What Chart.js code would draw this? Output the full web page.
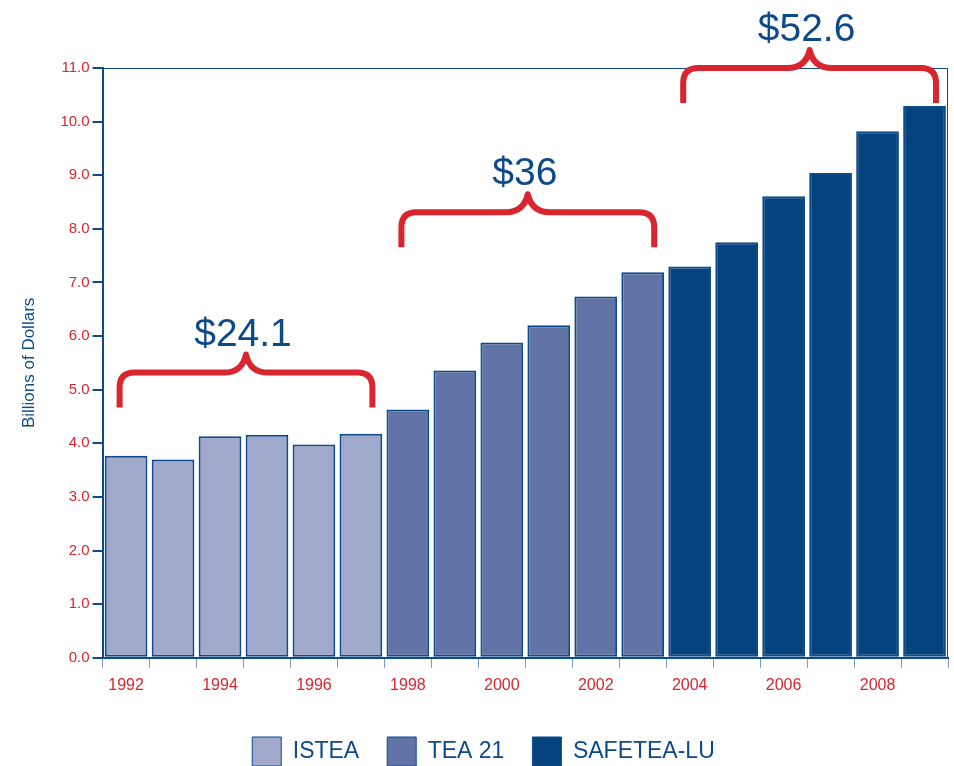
<!DOCTYPE html>
<html>
<head>
<meta charset="utf-8">
<script src="https://cdn.jsdelivr.net/npm/chart.js@4/dist/chart.umd.min.js"></script>
<style>
  html, body { margin: 0; padding: 0; background: #fff; }
  #wrap { width: 954px; height: 766px; }
</style>
</head>
<body>
<div id="wrap"><canvas id="myChart" width="954" height="766"></canvas></div>
<script>
// data (billions of dollars)
var years = ["1992", "1993", "1994", "1995", "1996", "1997", "1998", "1999", "2000",
             "2001", "2002", "2003", "2004", "2005", "2006", "2007", "2008", "2009"];
var istea = [3.77, 3.70, 4.13, 4.16, 3.98, 4.18, null, null, null, null, null, null, null, null, null, null, null, null];
var tea21 = [null, null, null, null, null, null, 4.63, 5.36, 5.88, 6.20, 6.74, 7.19, null, null, null, null, null, null];
var safetea = [null, null, null, null, null, null, null, null, null, null, null, null, 7.30, 7.75, 8.61, 9.04, 9.82, 10.29];

// bracket totals: first bar, last bar, level (in dollars) of the bracket, label
var bracketFrom = [0, 6, 12];
var bracketTo = [5, 11, 17];
var bracketLevel = [5.32, 8.31, 11.0];
var bracketText = ["$24.1", "$36", "$52.6"];

var red = "#d7262f";
var navy = "#0d4a8a";
var font = "'Liberation Sans', Arial, sans-serif";

var bracePlugin = {
    id: "braces",
    afterDatasetsDraw: function (chart) {
        var c = chart.ctx;
        var xs = chart.scales.x;
        var ys = chart.scales.y;
        var area = chart.chartArea;
        var slot = xs.getPixelForValue(1) - xs.getPixelForValue(0);

        // thin frame on top and right
        c.save();
        c.strokeStyle = navy;
        c.lineWidth = 1;
        c.beginPath();
        c.moveTo(area.left, area.top + 0.5);
        c.lineTo(area.right - 0.5, area.top + 0.5);
        c.lineTo(area.right - 0.5, area.bottom);
        c.stroke();
        c.restore();

        for (var i = 0; i < bracketText.length; i++) {
            var x0 = xs.getPixelForValue(bracketFrom[i]) - slot / 2 + 17;
            var x1 = xs.getPixelForValue(bracketTo[i]) + slot / 2 - 12;
            var y = ys.getPixelForValue(bracketLevel[i]);
            var mid = (x0 + x1) / 2;
            c.save();
            c.strokeStyle = red;
            c.lineWidth = 6;
            c.lineJoin = "round";
            c.beginPath();
            c.moveTo(x0, y + 35);
            c.lineTo(x0, y + 15);
            c.quadraticCurveTo(x0, y, x0 + 15, y);
            c.lineTo(mid - 22, y);
            c.quadraticCurveTo(mid - 4, y, mid, y - 18);
            c.quadraticCurveTo(mid + 4, y, mid + 22, y);
            c.lineTo(x1 - 15, y);
            c.quadraticCurveTo(x1, y, x1, y + 15);
            c.lineTo(x1, y + 35);
            c.stroke();

            c.fillStyle = navy;
            c.font = "39px " + font;
            c.textAlign = "center";
            c.textBaseline = "alphabetic";
            c.fillText(bracketText[i], mid - 3, y - 27);
            c.restore();
        }
    }
};

var ctx = document.getElementById("myChart").getContext("2d");
var myChart = new Chart(ctx, {
    type: "bar",
    data: {
        labels: years,
        datasets: [
            { label: "ISTEA", data: istea, backgroundColor: "#a0a8cc" },
            { label: "TEA 21", data: tea21, backgroundColor: "#6273a7" },
            { label: "SAFETEA-LU", data: safetea, backgroundColor: "#05437f" }
        ]
    },
    options: {
        responsive: false,
        animation: false,
        layout: { padding: { top: 68, right: 6, left: 19, bottom: -10 } },
        datasets: {
            bar: {
                grouped: false,
                barPercentage: 0.91,
                categoryPercentage: 1,
                borderColor: navy,
                borderWidth: 2,
                borderSkipped: false
            }
        },
        plugins: {
            tooltip: { enabled: false },
            legend: {
                position: "bottom",
                labels: {
                    boxWidth: 29,
                    boxHeight: 29,
                    padding: 28,
                    color: navy,
                    font: { family: font, size: 23 },
                    generateLabels: function (chart) {
                        return chart.data.datasets.map(function (ds, i) {
                            return {
                                text: ds.label,
                                fillStyle: ds.backgroundColor,
                                strokeStyle: navy,
                                lineWidth: 1,
                                fontColor: navy,
                                datasetIndex: i
                            };
                        });
                    }
                }
            }
        },
        scales: {
            x: {
                offset: true,
                afterFit: function (scale) { scale.height += 6; },
                grid: {
                    offset: true,
                    drawOnChartArea: false,
                    tickLength: 10,
                    color: "#7c9cc8"
                },
                border: { color: navy, width: 2 },
                ticks: {
                    autoSkip: false,
                    maxRotation: 0,
                    padding: 8,
                    color: red,
                    font: { family: font, size: 16 },
                    callback: function (v, i) {
                        return i % 2 === 0 ? years[i] : "";
                    }
                }
            },
            y: {
                min: 0,
                max: 11,
                grid: {
                    drawOnChartArea: false,
                    tickLength: 10,
                    color: navy,
                    lineWidth: 2
                },
                border: { color: navy, width: 2 },
                ticks: {
                    stepSize: 1,
                    color: red,
                    font: { family: font, size: 15 },
                    callback: function (v) { return v.toFixed(1); }
                },
                title: {
                    display: true,
                    text: "Billions of Dollars",
                    color: navy,
                    font: { family: font, size: 17 },
                    padding: { top: 0, bottom: 18 }
                }
            }
        }
    },
    plugins: [bracePlugin]
});
</script>
</body>
</html>
